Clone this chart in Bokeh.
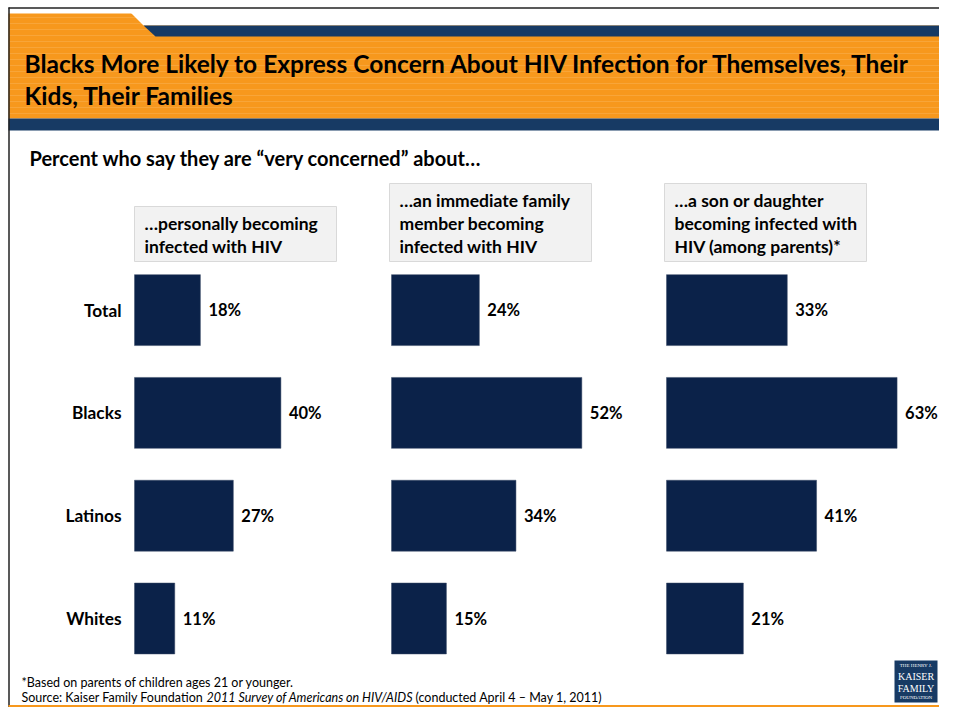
from bokeh.plotting import figure
from bokeh.models import Range1d
from bokeh.core.properties import value
from bokeh.embed import file_html
from bokeh.resources import INLINE

# ---------------- data ----------------
title_lines = ["Blacks More Likely to Express Concern About HIV Infection for Themselves, Their",
               "Kids, Their Families"]
subtitle = "Percent who say they are \u201cvery concerned\u201d about\u2026"
groups = ["Total", "Blacks", "Latinos", "Whites"]
panel_titles = [
    ["\u2026personally becoming", "infected with HIV"],
    ["\u2026an immediate family", "member becoming", "infected with HIV"],
    ["\u2026a son or daughter", "becoming infected with", "HIV (among parents)*"],
]
personally = [18, 40, 27, 11]
family_member = [24, 52, 34, 15]
son_daughter = [33, 63, 41, 21]
panel_values = [personally, family_member, son_daughter]
footnote = "*Based on parents of children ages 21 or younger."
source_parts = ["Source: Kaiser Family Foundation", "2011 Survey of Americans on HIV/AIDS",
                "(conducted April 4 \u2013 May 1, 2011)"]

# ---------------- layout constants ----------------
W, H = 939, 707
FONT = "Lato"
ORANGE = "#F7981D"
NAVY = "#173A64"
BAR = "#0B2249"
PX_PER_PCT = 3.66
panel_base = [134, 391, 666]          # left edge of bars (px)
box_rects = [(134, 336, 206, 261), (389, 591, 183, 261), (664, 866, 183, 261)]
row0, row_step = 309.6, 102.8

p = figure(width=W, height=H, x_range=Range1d(0, W), y_range=Range1d(H, 0),
           output_backend="svg", toolbar_location=None, min_border=0,
           x_axis_location=None, y_axis_location=None)
p.grid.visible = False
p.outline_line_color = None
p.background_fill_color = "white"
p.border_fill_color = "white"

# extra ranges so bars go through the library's scales
p.extra_y_ranges = {"rows": Range1d(start=(H - row0) / row_step, end=-row0 / row_step)}
for k, b in enumerate(panel_base):
    p.extra_x_ranges[f"p{k}"] = Range1d(start=-b / PX_PER_PCT, end=(W - b) / PX_PER_PCT)

# ---------------- header ----------------
p.quad(left=8, right=W, top=13, bottom=118, fill_color=ORANGE, line_color=None)
for yy in range(17, 118, 6):
    p.segment(x0=8, x1=W, y0=yy, y1=yy, line_color="#FAB256", line_width=1, line_alpha=0.5)
p.patch(x=[130, W, W, 143], y=[12, 12, 25, 25], fill_color="white", line_color=None)
p.patch(x=[143, W, W, 155], y=[25, 25, 36, 36], fill_color=NAVY, line_color=None)
p.quad(left=8, right=W, top=118, bottom=130, fill_color=NAVY, line_color=None)
p.segment(x0=8.5, x1=8.5, y0=7, y1=H, line_color="#222222", line_width=1.5)
p.segment(x0=8, x1=W, y0=7.5, y1=7.5, line_color="#222222", line_width=1.5)

p.text(x=[24, 24], y=[63, 95], text=title_lines, text_font=value(FONT), text_font_style="bold",
       text_font_size="24.5px", text_baseline="middle", text_color="black")
p.text(x=[29], y=[157], text=[subtitle], text_font=value(FONT), text_font_style="bold",
       text_font_size="20px", text_baseline="middle", text_color="black")

# ---------------- panel title boxes ----------------
for (l, r, t, b), lines in zip(box_rects, panel_titles):
    p.quad(left=l, right=r, top=t, bottom=b, fill_color="#F2F2F2", line_color="#D9D9D9", line_width=1)
    n = len(lines)
    ys = [(t + b) / 2 + 1 + (i - (n - 1) / 2) * 23 for i in range(n)]
    p.text(x=[l + 10] * n, y=ys, text=lines, text_font=value(FONT), text_font_style="bold",
           text_font_size="17.5px", text_baseline="middle", text_color="black")

# ---------------- bars ----------------
idx = list(range(len(groups)))
p.text(x=[121] * len(groups), y=idx, text=groups, y_range_name="rows", text_font=value(FONT),
       text_font_style="bold", text_font_size="17.3px", text_baseline="middle", text_align="right",
       text_color="black")
for k, vals in enumerate(panel_values):
    p.hbar(y=idx, left=0, right=vals, height=0.69, fill_color=BAR, line_color="#3A4A66",
           line_width=0.5, x_range_name=f"p{k}", y_range_name="rows")
    p.text(x=vals, y=idx, text=[f"{v}%" for v in vals], x_offset=8, x_range_name=f"p{k}",
           y_range_name="rows", text_font=value(FONT), text_font_style="bold",
           text_font_size="16.5px", text_baseline="middle", text_color="black")

# ---------------- footer ----------------
p.text(x=[21], y=[682], text=[footnote], text_font=value(FONT), text_font_size="12.5px",
       text_baseline="middle", text_color="black")
p.text(x=[21], y=[697], text=[source_parts[0]], text_font=value(FONT), text_font_size="12.5px",
       text_baseline="middle", text_color="black")
p.text(x=[206], y=[697], text=[source_parts[1]], text_font=value(FONT), text_font_style="italic",
       text_font_size="12.5px", text_baseline="middle", text_color="black")
p.text(x=[415], y=[697], text=[source_parts[2]], text_font=value(FONT), text_font_size="12.5px",
       text_baseline="middle", text_color="black")
p.quad(left=8, right=W, top=704.5, bottom=H, fill_color=ORANGE, line_color=None)

# logo
p.quad(left=894, right=937, top=660, bottom=702, fill_color=NAVY, line_color=None)
p.text(x=[915.5], y=[665], text=["THE HENRY J."], text_font=value("Liberation Serif"),
       text_font_size="5px", text_baseline="middle", text_align="center", text_color="white")
p.text(x=[915.5, 915.5], y=[676, 688], text=["KAISER", "FAMILY"], text_font=value("Liberation Serif"),
       text_font_size="10px", text_baseline="middle", text_align="center", text_color="white")
p.text(x=[915.5], y=[697], text=["FOUNDATION"], text_font=value("Liberation Serif"),
       text_font_size="5px", text_baseline="middle", text_align="center", text_color="white")

open("out.html", "w").write(file_html(p, INLINE))
